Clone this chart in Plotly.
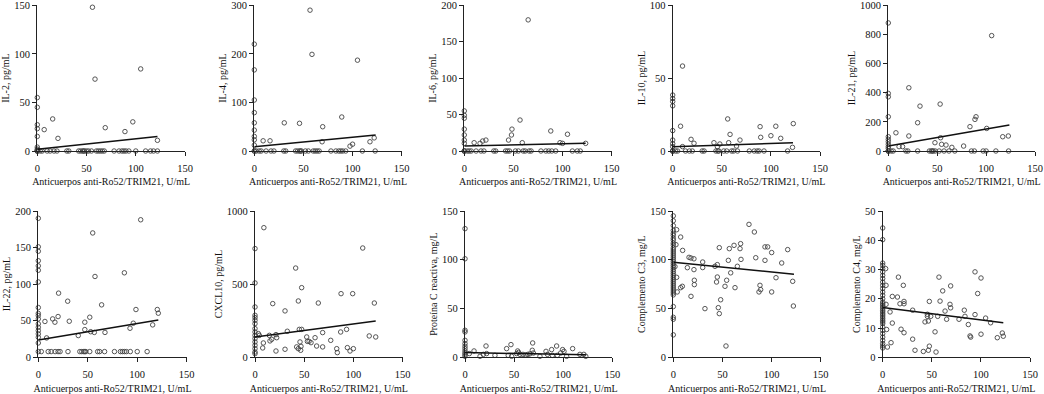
import plotly.graph_objects as go

W, H = 1044, 394
X_LABEL = "Anticuerpos anti-Ro52/TRIM21, U/mL"

Y_LABELS = ["IL-2, pg/mL", "IL-4, pg/mL", "IL-6, pg/mL", "IL-10, pg/mL", "IL-21, pg/mL",
            "IL-22, pg/mL", "CXCL10, pg/mL", "Proteína C reactiva, mg/L",
            "Complemento C3, mg/L", "Complemento C4, mg/L"]
Y_MAX = [150, 300, 200, 100, 1000, 200, 1000, 150, 150, 50]
Y_DTICK = [50, 100, 50, 50, 200, 50, 500, 50, 50, 10]
X_TICKS = [0, 50, 100, 150]

# regression lines (x at start/end, y at start/end)
FIT_X = [[0, 122], [0, 123.5], [0, 123.5], [0, 122.5], [0, 123.8],
         [0, 121.3], [0, 122.6], [0, 123], [0, 122.8], [0, 122.8]]
FIT_Y = [[1.7, 15], [9, 33], [7, 10.5], [3, 5.7], [34, 178],
         [23.7, 51], [139, 248], [4.8, 2.7], [97.4, 85.1], [17, 11.8]]

# ---- IL-2 ----
IL2_x = [0]*11 + [7, 15.6, 21, 56, 58.6, 69, 89, 97, 105, 122] + \
    [3, 5, 10, 13, 17, 20, 30, 32, 42, 44, 46, 47, 48, 50, 52, 55, 60, 62, 64, 66, 68,
     78, 83, 86, 88, 90, 93, 100, 110, 115, 118, 122]
IL2_y = [55, 45, 27, 23, 15, 4, 2, 1, 0, 0, 0] + [22, 33, 13, 148, 74, 24, 20, 30, 84.5, 11] + [0]*32

# ---- IL-4 ----
IL4_x = [0]*11 + [9, 16, 30.5, 46, 56.7, 58.7, 69.6, 69, 89, 105, 97.4, 100, 117.7, 122] + \
    [2, 5, 7, 12, 17, 20, 30, 32, 42, 44, 46, 47, 48, 52, 55, 60, 62, 64, 66, 78, 83, 86,
     88, 90, 93, 110, 123]
IL4_y = [220, 167, 105, 79, 58, 43, 30, 23, 12, 0, 0] + \
    [21, 21, 58, 57, 290, 199, 50, 19, 70, 187, 10, 14, 19, 27] + [0]*31

# ---- IL-6 ----
IL6_x = [0]*10 + [10, 16, 18.7, 22, 45, 48, 48.5, 56.7, 59, 65, 88, 97.4, 100, 105, 123.5] + \
    [3, 5, 7, 12, 17, 20, 30, 32, 42, 44, 46, 52, 55, 60, 62, 66, 68, 78, 83, 86,
     89, 93, 110, 115, 118]
IL6_y = [55, 49, 45, 30, 22, 15, 10.5, 0, 0, 0] + \
    [11.4, 10.5, 13.7, 15, 15, 22, 30, 42.5, 11.4, 180, 27.5, 11.4, 10.5, 23, 10.5] + [0]*25

# ---- IL-10 ----
IL10_x = [0]*11 + [8, 10, 10, 18.7, 21.7, 42, 45.5, 48, 56, 58.4, 57, 65, 68.5, 89, 89.6,
                   100, 105, 110, 122.8, 122] + \
    [3, 5, 13, 17, 20, 30, 32, 44, 46, 47, 52, 55, 60, 62, 66, 78, 83, 86, 88, 93, 117]
IL10_y = [38.4, 36, 34, 31, 14, 7.5, 5, 3, 0, 0, 0] + \
    [17, 58.3, 3, 8, 5.3, 5.7, 3, 4.8, 22, 11.4, 5.7, 3.4, 7.5, 16.7, 9.4,
     10.5, 17, 8.7, 18.8, 2.5] + [0]*21

# ---- IL-21 ----
IL21_x = [0]*13 + [7.8, 11, 14.6, 21, 21, 30, 32.4, 47.7, 53, 53.5, 54.5, 59, 65, 77, 83.5,
                   88.6, 89.7, 100.6, 105.7, 117, 122.7] + \
    [3, 5, 18, 20, 30, 42, 44, 45, 46, 48, 52, 57, 62, 68, 85, 88, 97, 100, 110, 123]
IL21_y = [879, 395, 372, 235, 98, 80, 64, 46, 30, 18, 0, 0, 0] + \
    [125, 30, 30, 434, 103, 194, 308, 57, 322, 91, 46, 41, 25, 34, 167,
     217, 235, 155, 792, 98, 103] + [0]*20

# ---- IL-22 ----
IL22_x = [0]*18 + [6.7, 8.4, 14.5, 16.8, 20, 20.5, 29.7, 31.3, 40.4, 47, 47, 52, 53, 55, 56.6,
                   57.3, 64, 67.4, 87, 92.7, 96, 98.7, 103.5, 115.6, 120.3, 121.3] + \
    [3, 10, 13, 17, 20, 22, 30, 42, 44, 46, 47, 48, 52, 60, 62, 67, 77, 83, 85, 87,
     89, 93, 100, 110]
IL22_y = [190, 151, 145, 132, 125, 119, 103, 68, 60, 57, 52.5, 45.7, 41, 36.5, 32, 27.4, 19.6, 7.8] + \
    [49, 26.5, 52.5, 48, 55.7, 87.7, 76.7, 49.3, 29.7, 48, 37.9, 54.8, 35, 170, 34,
     110.5, 71.7, 34, 115.5, 39.7, 46.6, 65.3, 188, 44.3, 65.3, 60.3] + [7.8]*24

# ---- CXCL10 ----
CXCL10_x = [0]*16 + [9, 8.5, 7.8, 3.4, 4.4, 14.6, 15.2, 17, 18, 21.3, 22, 21.3, 30.5, 30.5,
                     32.8, 41.3, 42.3, 44, 44, 45, 45.7, 46.4, 46.7, 47.4, 47.4, 52.5, 53.2,
                     54.9, 56.9, 61, 62.6, 64.3, 68.7, 68.7, 76.9, 83, 83.6, 87.4, 87, 93,
                     93.8, 96.5, 99.2, 99.9, 109.4, 116, 121.2, 122.6]
CXCL10_y = [743, 508, 344, 287, 271, 253, 230, 196, 173, 150, 128, 105, 82, 59, 36, 25] + \
    [886, 98, 64, 162, 150, 150, 112, 123, 367, 155, 134, 43, 317, 55,
     178, 610, 71, 385, 59, 191, 105, 48, 75, 476, 191, 139, 109,
     109, 100, 134, 77, 371, 169, 71, 116, 59, 32, 435, 173, 191,
     66, 43, 435, 59, 747, 146, 371, 139]

# ---- CRP ----
CRP_x = [0]*12 + [4.4, 9.2, 15.3, 18.7, 21.4, 22, 30.5, 42.4, 44, 46.8, 47.5, 52.6, 53.6,
                  54.6, 56, 59, 62, 64, 66, 68.5, 68.9, 69.6, 76.3, 82.5, 84, 88.2, 89,
                  93.3, 94, 97.4, 99.4, 100.8, 103.5, 109.6, 117, 121, 123]
CRP_y = [131.9, 101, 27.7, 26, 17.4, 14, 11.3, 8.9, 6.5, 4.4, 2.7, 1] + \
    [3.8, 6.5, 1, 3, 11.6, 3.8, 2, 8.9, 2, 13, 1, 3.8, 6.5,
     5, 3, 3, 2.5, 3, 3.5, 7.2, 14.7, 4.4, 1, 6.1, 3, 7.9, 2,
     11.6, 2, 4.4, 7.9, 6.1, 1, 8.9, 3, 3, 1]

# ---- C3 ----
C3_x = [0]*39 + [3.4, 2.7, 1.7, 3.4, 4, 7.5, 7.5, 9.2, 9.5, 14.3, 16, 18, 18, 21, 21, 21.4,
                 21.4, 29.9, 29.9, 32.2, 42.4, 44.8, 44.8, 44, 45.8, 46.8, 46.8, 48.2, 52.6,
                 53.6, 54.3, 56, 57, 58.4, 61.8, 62.8, 65.2, 67.9, 68.5, 68.9, 77, 82.5,
                 83.9, 87.2, 88.2, 88.9, 93.3, 93.3, 96, 100.1, 100.1, 104.5, 110.3, 116.4,
                 121.5, 122.2]
C3_y = [145, 140, 135, 130, 127, 125, 122, 120, 117, 115, 112, 110, 108, 106, 104, 102,
        100, 98, 96, 94, 92, 90, 88, 86, 84, 82, 80, 78, 76, 74, 72, 70, 68, 66, 64, 52,
        41, 39, 23] + \
    [130.8, 115.5, 93, 82, 67, 123.3, 71.4, 72.8, 109.6, 91.9, 102.5, 101.8, 62.5, 101,
     89.9, 79, 74.5, 97.7, 92, 49.9, 93.3, 95, 82.3, 77.2, 50.9, 112.4, 44.8, 59, 72.8,
     11.6, 79, 99.4, 111.4, 86.6, 114.8, 71.4, 93.3, 111.4, 116.5, 100.4, 136.3, 128.5,
     102.1, 67, 73.8, 69.4, 113.2, 99.4, 113.2, 107.4, 67, 81.6, 96.7, 110.4, 77.9, 52.6]

# ---- C4 ----
C4_x = [0]*36 + [3, 3.4, 3.4, 4, 4.8, 7.5, 8.5, 9.8, 9.8, 15, 16, 17.6, 21.7, 21.7, 21, 21.7,
                 18.7, 30.5, 30.5, 32.9, 41.4, 43.1, 45.5, 45.5, 46.5, 46.5, 47.5, 47.5,
                 48.9, 53.3, 54.3, 56, 57.3, 58.4, 61.1, 63.5, 65.1, 68.5, 69.2, 69.2, 77.7,
                 83.1, 83.8, 87.2, 88.9, 89.6, 94, 94, 96.7, 100.1, 100.1, 104.8, 109.9,
                 116.7, 121.8, 122.8]
C4_y = [44.2, 40.2, 32.2, 31.4, 30.3, 29.2, 28, 26.9, 25.7, 24.6, 23.5, 22.3, 21.2, 20,
        18.9, 18.3, 17.8, 17.2, 16.6, 16, 15.5, 14.9, 14.4, 13.8, 13.2, 12.6, 12.1, 11.5,
        10.4, 9.2, 8.1, 6.9, 5.8, 4.7, 3.9, 3.2] + \
    [30.3, 24.6, 18.1, 9.5, 3.5, 15.5, 5, 20.8, 11.7, 20.6, 27.4, 18.3, 18.3, 19.1, 24.6, 8.4,
     9.6, 16.1, 6.2, 2.4, 2, 12.1, 14.7, 14, 12.4, 2.4, 19.1, 3.8,
     14, 8.7, 1.8, 14, 27.4, 19.2, 22.7, 15.8, 13, 18.1, 24.4, 16.9, 13,
     16.1, 14, 11.2, 7.3, 6.9, 29.2, 14.6, 21.8, 27.1, 7.9, 13.4, 11.8,
     6.7, 8.3, 7.2]

DATA_X = [IL2_x, IL4_x, IL6_x, IL10_x, IL21_x, IL22_x, CXCL10_x, CRP_x, C3_x, C4_x]
DATA_Y = [IL2_y, IL4_y, IL6_y, IL10_y, IL21_y, IL22_y, CXCL10_y, CRP_y, C3_y, C4_y]

# layout (pixel positions of plot areas)
X_PX = [(37.3, 185), (254.3, 401.7), (464.3, 611.7), (672.7, 820), (888.3, 1035),
        (38.3, 186.7), (255, 402.7), (465, 612.3), (673.3, 820.7), (882.7, 1030)]
Y_PX = [(5.3, 151)] * 5 + [(211, 357.3)] * 5

FONT = dict(family="Liberation Serif", size=10, color="#111111")
TICKFONT = dict(family="Liberation Serif", size=10.5, color="#111111")
fig = go.Figure()
layout = dict(width=W, height=H, margin=dict(l=0, r=0, t=0, b=0, autoexpand=False),
              plot_bgcolor="white", paper_bgcolor="white", showlegend=False, font=FONT)

for i in range(10):
    n = i + 1
    xa = "x" if n == 1 else f"x{n}"
    ya = "y" if n == 1 else f"y{n}"
    fig.add_trace(go.Scatter(x=DATA_X[i], y=DATA_Y[i], mode="markers", xaxis=xa, yaxis=ya,
                             cliponaxis=False,
                             marker=dict(symbol="circle-open", size=4.5, color="#444444",
                                         line=dict(width=0.9, color="#444444"))))
    fig.add_trace(go.Scatter(x=FIT_X[i], y=FIT_Y[i], mode="lines", xaxis=xa, yaxis=ya,
                             cliponaxis=False, line=dict(color="#111111", width=1.5)))
    x0, x1 = X_PX[i]
    yt, yb = Y_PX[i]
    axcommon = dict(showgrid=False, zeroline=False, showline=True, linecolor="#222222",
                    linewidth=1.2, ticks="outside", ticklen=4, tickwidth=1.2,
                    tickcolor="#222222", tickfont=TICKFONT, automargin=False,
                    ticklabeloverflow="allow")
    layout["xaxis" if n == 1 else f"xaxis{n}"] = dict(
        domain=[x0 / W, x1 / W], anchor=ya, range=[0, 150], tickvals=X_TICKS,
        ticklabelstandoff=3,
        title=dict(text=X_LABEL, font=FONT, standoff=5), **axcommon)
    layout["yaxis" if n == 1 else f"yaxis{n}"] = dict(
        domain=[1 - yb / H, 1 - yt / H], anchor=xa, range=[0, Y_MAX[i]],
        tickmode="linear", tick0=0, dtick=Y_DTICK[i],
        title=dict(text=Y_LABELS[i], font=FONT, standoff=2), **axcommon)

fig.update_layout(**layout)
fig.write_html("out.html", config={"displayModeBar": False},
               post_script="document.body.style.margin='0';")
